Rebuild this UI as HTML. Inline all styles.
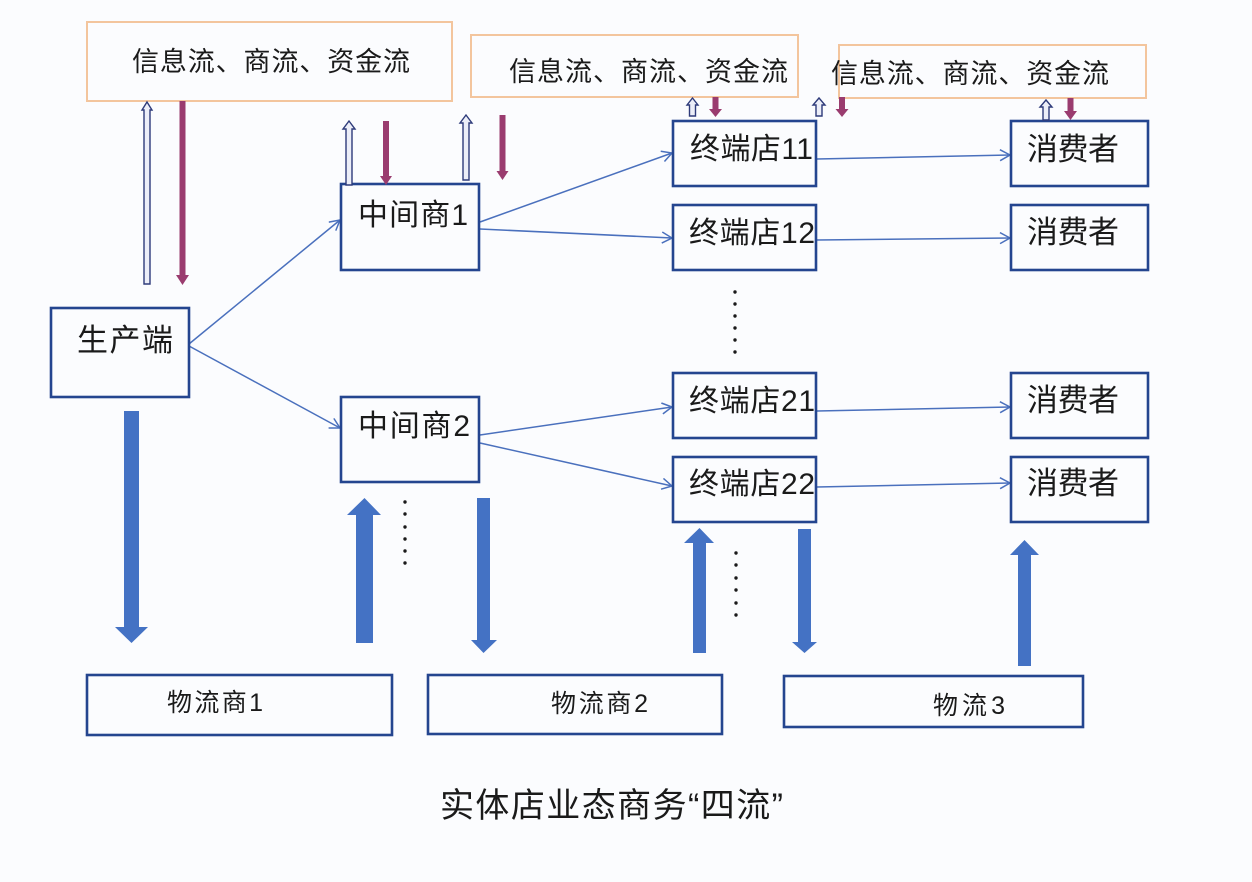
<!DOCTYPE html>
<html><head><meta charset="utf-8"><style>
html,body{margin:0;padding:0;background:#fbfcfe;}
svg{display:block;}
text{font-family:"Liberation Sans","Noto Sans CJK SC",sans-serif;fill:#1a1a1a;}
</style></head><body>
<svg width="1252" height="882" viewBox="0 0 1252 882" xmlns="http://www.w3.org/2000/svg">
<defs>
<marker id="ah" markerUnits="userSpaceOnUse" markerWidth="14" markerHeight="14" refX="11" refY="6" orient="auto">
<path d="M1,0.5 L11,6 L1,11.5" fill="none" stroke="#4a70bd" stroke-width="1.5"/>
</marker>
</defs>
<rect width="1252" height="882" fill="#fbfcfe"/>

<!-- orange boxes -->
<rect x="87" y="22" width="365" height="79" fill="none" stroke="#f3c59d" stroke-width="2"/>
<rect x="471" y="35" width="327" height="62" fill="none" stroke="#f3c59d" stroke-width="2"/>
<rect x="839" y="45" width="307" height="53" fill="none" stroke="#f3c59d" stroke-width="2"/>
<text x="132" y="71" font-size="27" textLength="278" lengthAdjust="spacing">信息流、商流、资金流</text>
<text x="509" y="81" font-size="27" textLength="279" lengthAdjust="spacing">信息流、商流、资金流</text>
<text x="831" y="83" font-size="27" textLength="278" lengthAdjust="spacing">信息流、商流、资金流</text>

<!-- connector lines -->
<g stroke="#4a70bd" stroke-width="1.5" fill="none" marker-end="url(#ah)">
<line x1="189" y1="344" x2="340" y2="220"/>
<line x1="189" y1="346" x2="340" y2="428"/>
<line x1="480" y1="222" x2="672" y2="153"/>
<line x1="480" y1="229" x2="672" y2="238"/>
<line x1="480" y1="435" x2="672" y2="407"/>
<line x1="480" y1="443" x2="672" y2="486"/>
<line x1="817" y1="159" x2="1010" y2="155"/>
<line x1="817" y1="240" x2="1010" y2="238"/>
<line x1="817" y1="411" x2="1010" y2="407"/>
<line x1="817" y1="487" x2="1010" y2="483"/>
</g>

<!-- boxes -->
<g fill="none" stroke="#24458f" stroke-width="2.6">
<rect x="51" y="308" width="138" height="89"/>
<rect x="341" y="184" width="138" height="86"/>
<rect x="341" y="397" width="138" height="85"/>
<rect x="673" y="121" width="143" height="65"/>
<rect x="673" y="205" width="143" height="65"/>
<rect x="673" y="373" width="143" height="65"/>
<rect x="673" y="457" width="143" height="65"/>
<rect x="1011" y="121" width="137" height="65"/>
<rect x="1011" y="205" width="137" height="65"/>
<rect x="1011" y="373" width="137" height="65"/>
<rect x="1011" y="457" width="137" height="65"/>
<rect x="87" y="675" width="305" height="60"/>
<rect x="428" y="675" width="294" height="59"/>
<rect x="784" y="676" width="299" height="51"/>
</g>

<!-- box labels -->
<text x="77" y="351" font-size="31" textLength="96" lengthAdjust="spacing">生产端</text>
<text x="358" y="225" font-size="30" textLength="110" lengthAdjust="spacing">中间商1</text>
<text x="358" y="436" font-size="30" textLength="112" lengthAdjust="spacing">中间商2</text>
<text x="690" y="159" font-size="30" textLength="123" lengthAdjust="spacing">终端店11</text>
<text x="689" y="243" font-size="30" textLength="126" lengthAdjust="spacing">终端店12</text>
<text x="689" y="411" font-size="30" textLength="126" lengthAdjust="spacing">终端店21</text>
<text x="689" y="494" font-size="30" textLength="126" lengthAdjust="spacing">终端店22</text>
<text x="1027" y="160" font-size="31" textLength="92" lengthAdjust="spacing">消费者</text>
<text x="1027" y="243" font-size="31" textLength="92" lengthAdjust="spacing">消费者</text>
<text x="1027" y="411" font-size="31" textLength="92" lengthAdjust="spacing">消费者</text>
<text x="1027" y="494" font-size="31" textLength="92" lengthAdjust="spacing">消费者</text>
<text x="167" y="711" font-size="25" textLength="96" lengthAdjust="spacing">物流商1</text>
<text x="551" y="712" font-size="25" textLength="97" lengthAdjust="spacing">物流商2</text>
<text x="933" y="714" font-size="25" textLength="72" lengthAdjust="spacing">物流3</text>

<!-- hollow up arrows -->
<g fill="#eceef8" stroke="#2e3b7a" stroke-width="1.4" stroke-linejoin="miter">
<polygon points="147,102 152,110 150,110 150,284 144,284 144,110 142,110"/>
<polygon points="349,121 355,129 352,129 352,185 346,185 346,129 343,129"/>
<polygon points="466,115 472,123 469,123 469,180 463,180 463,123 460,123"/>
<polygon points="692.5,98 698,105 695.5,105 695.5,116 689.5,116 689.5,105 687,105"/>
<polygon points="819,98 825,105 822,105 822,116 816,116 816,105 813,105"/>
<polygon points="1046,100 1052,107 1049,107 1049,120 1043,120 1043,107 1040,107"/>
</g>

<!-- purple down arrows -->
<g fill="#9a3c6f">
<polygon points="179.5,101 185.5,101 185.5,275 189,275 182.5,285 176,275 179.5,275"/>
<polygon points="383,121 389,121 389,176 392,176 386,185 380,176 383,176"/>
<polygon points="499.5,115 505.5,115 505.5,171 508.5,171 502.5,180 496.5,171 499.5,171"/>
<polygon points="712.5,97 718.5,97 718.5,109 722,109 715.5,117 709,109 712.5,109"/>
<polygon points="839,97 845,97 845,109 848.5,109 842,117 835.5,109 839,109"/>
<polygon points="1067.5,98 1073.5,98 1073.5,111 1077,111 1070.5,120 1064,111 1067.5,111"/>
</g>

<!-- big blue arrows -->
<g fill="#4472c4">
<polygon points="124,411 139,411 139,627 148,627 131.5,643 115,627 124,627"/>
<polygon points="364.5,498 381,515 373,515 373,643 356,643 356,515 347,515"/>
<polygon points="477,498 490,498 490,640 497,640 483.5,653 471,640 477,640"/>
<polygon points="699.5,528 714,543 706,543 706,653 693,653 693,543 684,543"/>
<polygon points="798,529 811,529 811,642 817,642 804.5,653 792,642 798,642"/>
<polygon points="1024.5,540 1039,555 1031,555 1031,666 1018,666 1018,555 1010,555"/>
</g>

<!-- dots -->
<g fill="#1a1a1a">
<circle cx="405" cy="502" r="1.7"/><circle cx="405" cy="514" r="1.7"/><circle cx="405" cy="527" r="1.7"/><circle cx="405" cy="539" r="1.7"/><circle cx="405" cy="551" r="1.7"/><circle cx="405" cy="563" r="1.7"/>
<circle cx="735" cy="292" r="1.7"/><circle cx="735" cy="304" r="1.7"/><circle cx="735" cy="316" r="1.7"/><circle cx="735" cy="328" r="1.7"/><circle cx="735" cy="340" r="1.7"/><circle cx="735" cy="352" r="1.7"/>
<circle cx="736" cy="553" r="1.7"/><circle cx="736" cy="565" r="1.7"/><circle cx="736" cy="578" r="1.7"/><circle cx="736" cy="590" r="1.7"/><circle cx="736" cy="603" r="1.7"/><circle cx="736" cy="615" r="1.7"/>
</g>

<!-- caption -->
<text x="440" y="817" font-size="34" textLength="343" lengthAdjust="spacing">实体店业态商务“四流”</text>
</svg>
</body></html>
